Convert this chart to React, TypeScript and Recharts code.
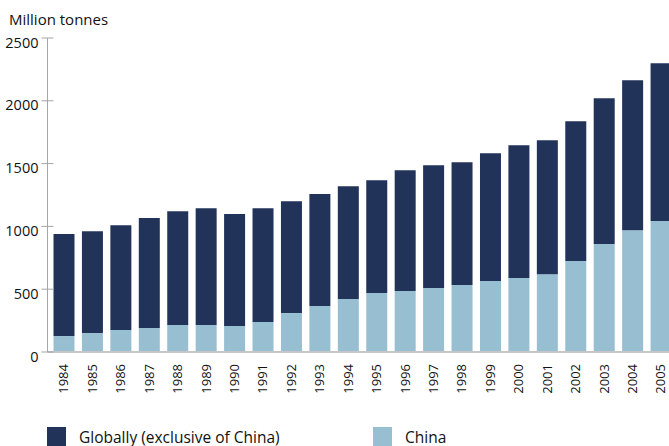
import React from "react"
import { Bar, BarChart, Legend, XAxis, YAxis } from "recharts"

const years = [
  "1984", "1985", "1986", "1987", "1988", "1989", "1990", "1991", "1992", "1993", "1994",
  "1995", "1996", "1997", "1998", "1999", "2000", "2001", "2002", "2003", "2004", "2005",
]

// million tonnes
const chinaValues = [127, 151, 175, 191, 215, 215, 207, 239, 310, 366, 422, 469, 485, 509, 533, 565, 589, 620, 724, 859, 970, 1042]
const globalExChinaValues = [812, 811, 835, 875, 906, 930, 891, 906, 891, 891, 898, 899, 963, 978, 978, 1018, 1057, 1066, 1113, 1161, 1193, 1257]

const yTicks = [0, 500, 1000, 1500, 2000, 2500]

const seriesNames = { global: "Globally (exclusive of China)", china: "China" }

const DARK = "#22335a"
const LIGHT = "#97bed1"
const FONT = "'Open Sans', sans-serif"

const data = years.map((year, i) => ({
  year,
  china: chinaValues[i],
  global: globalExChinaValues[i],
}))

const legendItems = [
  { key: "global", label: seriesNames.global, color: DARK },
  { key: "china", label: seriesNames.china, color: LIGHT },
]

function YTick({ x, y, payload }: any) {
  const axisX = x + 9
  return (
    <g>
      <line x1={axisX - 6} x2={axisX + 6} y1={y} y2={y} stroke="#a6a6a6" strokeWidth={1} />
      <text x={x} y={y} dy={9.5} textAnchor="end" fontSize={14.5} fill="#111" fontFamily={FONT}>
        {payload.value}
      </text>
    </g>
  )
}

function XTick({ x, y, payload }: any) {
  return (
    <text
      x={x}
      y={y}
      transform={`rotate(-90 ${x} ${y})`}
      textAnchor="end"
      dy="0.36em"
      fontSize={13}
      fill="#111"
      fontFamily={FONT}
    >
      {payload.value}
    </text>
  )
}

function LegendContent() {
  return (
    <div style={{ display: "flex", fontFamily: FONT, fontSize: 15.5, color: "#111" }}>
      {legendItems.map((item, i) => (
        <div
          key={item.key}
          style={{ display: "flex", alignItems: "flex-start", width: i === 0 ? 326 : 200, marginLeft: i === 0 ? 47 : 0 }}
        >
          <span style={{ width: 19, height: 19, background: item.color, display: "inline-block" }} />
          <span style={{ marginLeft: 13, lineHeight: "19px", marginTop: 1 }}>{item.label}</span>
        </div>
      ))}
    </div>
  )
}

export default function App() {
  return (
    <div style={{ position: "absolute", left: 0, top: 0, width: 669, height: 446, overflow: "hidden", background: "#fff" }}>
      <div
        style={{
          position: "absolute",
          left: 9,
          top: 9,
          fontFamily: FONT,
          fontSize: 15,
          color: "#111",
          lineHeight: "20px",
        }}
      >
        Million tonnes
      </div>
      <BarChart
        width={675}
        height={446}
        data={data}
        margin={{ top: 38, right: 0, left: 0, bottom: 0 }}
        barSize={21}
      >
        <XAxis
          dataKey="year"
          interval={0}
          height={94}
          padding={{ left: 2, right: 0 }}
          axisLine={{ stroke: "#c6c6c6", strokeWidth: 2 }}
          tickLine={false}
          tickMargin={6}
          tick={<XTick />}
        />
        <YAxis
          width={47.5}
          domain={[0, 2500]}
          ticks={yTicks}
          interval={0}
          axisLine={{ stroke: "#a6a6a6", strokeWidth: 1 }}
          tickLine={false}
          tickSize={0}
          tickMargin={9}
          tick={<YTick />}
        />
        <Legend
          verticalAlign="middle"
          align="center"
          content={<LegendContent />}
          wrapperStyle={{ top: 427, left: 0, width: 669 }}
        />
        <Bar dataKey="china" name={seriesNames.china} stackId="a" fill={LIGHT} isAnimationActive={false} />
        <Bar dataKey="global" name={seriesNames.global} stackId="a" fill={DARK} isAnimationActive={false} />
      </BarChart>
    </div>
  )
}
